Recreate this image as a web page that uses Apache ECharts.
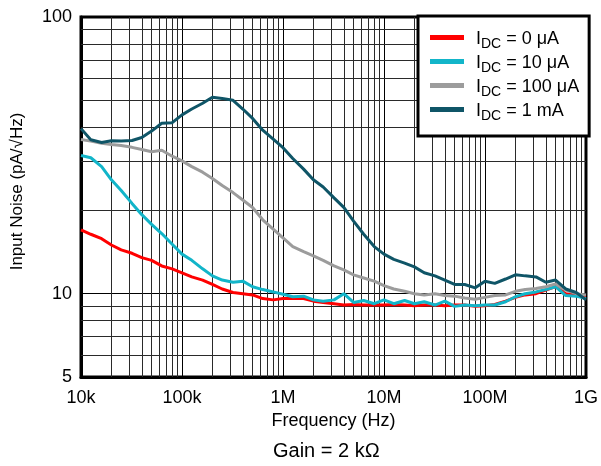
<!DOCTYPE html>
<html>
<head>
<meta charset="utf-8">
<script src="https://cdn.jsdelivr.net/npm/echarts@6/dist/echarts.min.js"></script>
<style>
  html, body { margin: 0; padding: 0; background: #fff; }
  #main { width: 601px; height: 466px; }
</style>
</head>
<body>
<div id="main"></div>
<script>
// frequency points (Hz) the curves were read at
const freq = [
  10e3, 12.5e3, 16e3, 20e3, 25e3, 32e3, 40e3, 50e3, 63e3, 80e3,
  100e3, 125e3, 160e3, 200e3, 250e3, 320e3, 400e3, 500e3, 630e3, 800e3,
  1e6, 1.25e6, 1.6e6, 2e6, 2.5e6, 3.2e6, 4e6, 5e6, 6.3e6, 8e6,
  10e6, 12.5e6, 16e6, 20e6, 25e6, 32e6, 40e6, 50e6, 63e6, 80e6,
  100e6, 125e6, 160e6, 200e6, 250e6, 320e6, 400e6, 500e6, 630e6, 800e6,
  1e9
];

// input noise, pA/sqrt(Hz)
const noise0uA = [
  17.0, 16.4, 15.8, 15.0, 14.4, 14.0, 13.5, 13.2, 12.6, 12.3,
  11.9, 11.5, 11.2, 10.8, 10.4, 10.1, 10.0, 9.9, 9.6, 9.5,
  9.6, 9.6, 9.6, 9.4, 9.3, 9.2, 9.1, 9.15, 9.1, 9.1,
  9.1, 9.15, 9.1, 9.05, 9.1, 9.1, 9.05, 9.1, 9.1, 9.0,
  9.05, 9.15, 9.4, 9.7, 9.9, 10.0, 10.3, 10.6, 10.0, 9.85,
  9.8
];
const noise10uA = [
  31.6, 31.0, 28.8, 25.8, 23.6, 21.2, 19.3, 17.8, 16.5, 15.1,
  13.9, 13.2, 12.3, 11.6, 11.2, 11.0, 11.1, 10.6, 10.35, 10.15,
  9.95, 9.75, 9.8, 9.5, 9.4, 9.5, 10.0, 9.3, 9.45, 9.2,
  9.5, 9.2, 9.45, 9.2, 9.35, 9.1, 9.4, 9.0, 9.1, 9.05,
  9.1, 9.1, 9.35, 9.75, 10.0, 10.15, 10.35, 10.6, 9.85, 9.8,
  9.6
];
const noise100uA = [
  36.1, 35.6, 35.0, 34.6, 34.3, 33.8, 33.2, 32.6, 33.0, 31.4,
  30.2, 28.8, 27.5, 26.1, 24.6, 23.2, 21.8, 20.5, 18.5, 17.1,
  15.9, 14.8, 14.2, 13.7, 13.2, 12.6, 12.2, 11.7, 11.4, 11.1,
  10.7, 10.4, 10.2, 10.0, 9.9, 10.0, 9.85, 9.8, 9.65, 9.55,
  9.7, 9.85, 9.9, 10.2, 10.35, 10.45, 10.6, 10.85, 10.3, 10.0,
  9.9
];
const noise1mA = [
  39.5, 36.0, 35.2, 35.7, 35.6, 35.8, 36.7, 38.7, 41.3, 41.5,
  44.3, 46.5, 48.8, 51.3, 50.8, 50.0, 46.5, 43.0, 39.0, 36.2,
  33.7, 30.8, 28.2, 25.8, 24.3, 22.2, 20.5, 18.3, 16.4, 14.8,
  13.9, 13.3, 12.9, 12.5, 11.9, 11.6, 11.2, 10.8, 10.8, 10.5,
  11.1, 10.9, 11.3, 11.7, 11.6, 11.5, 11.0, 11.2, 10.4, 10.1,
  9.5
];

const seriesNames = ['0 μA', '10 μA', '100 μA', '1 mA'];
const seriesColors = ['#ff0000', '#12b5c9', '#9c9c9c', '#0f5567'];
const seriesData = [noise0uA, noise10uA, noise100uA, noise1mA];

const xLabels = { 4: '10k', 5: '100k', 6: '1M', 7: '10M', 8: '100M', 9: '1G' };
const yLabels = [5, 10, 100];

const FONT = '"Liberation Sans", Arial, sans-serif';

// log-grid minor lines (2..9 of each decade)
const gridLines = [];
for (let d = 4; d < 9; d++) {
  for (let m = 2; m <= 9; m++) gridLines.push({ xAxis: m * Math.pow(10, d) });
}
for (let m = 6; m <= 9; m++) gridLines.push({ yAxis: m });
for (let m = 2; m <= 9; m++) gridLines.push({ yAxis: m * 10 });

const myChart = echarts.init(document.getElementById('main'), null, { renderer: 'canvas' });

const series = [{
  name: 'grid',
  type: 'line',
  data: [],
  silent: true,
  z: 1,
  markLine: {
    z: 1,
    silent: true,
    symbol: 'none',
    label: { show: false },
    lineStyle: { color: '#2a2a2a', width: 1, type: 'solid' },
    emphasis: { disabled: true },
    animation: false,
    data: gridLines
  }
}];
seriesNames.forEach((n, i) => {
  series.push({
    name: n,
    type: 'line',
    z: 3,
    showSymbol: false,
    symbol: 'none',
    color: seriesColors[i],
    lineStyle: { width: 3, color: seriesColors[i] },
    data: freq.map((f, j) => [f, seriesData[i][j]])
  });
});

myChart.setOption({
  animation: false,
  textStyle: { fontFamily: FONT },
  title: {
    text: 'Gain = 2 kΩ',
    left: 273,
    top: 441,
    padding: 0,
    textStyle: { fontFamily: FONT, fontSize: 20, fontWeight: 'normal', color: '#000' }
  },
  grid: {
    left: 81, top: 17, right: 12, bottom: 89,
    show: true, borderColor: '#000', borderWidth: 3, backgroundColor: '#fff'
  },
  legend: {
    data: seriesNames,
    orient: 'vertical',
    left: 418,
    top: 16,
    z: 10,
    padding: [11, 10, 13, 12],
    backgroundColor: '#fff',
    borderColor: '#000',
    borderWidth: 3,
    itemWidth: 34,
    itemHeight: 5,
    itemGap: 0,
    icon: 'rect',
    selectedMode: false,
    formatter: n => '{i|I}{s|DC}{a| = ' + n + '}',
    textStyle: {
      fontFamily: FONT, fontSize: 18, color: '#000',
      rich: {
        i: { fontFamily: FONT, fontSize: 18, color: '#000', lineHeight: 21, verticalAlign: 'top', padding: [3, 0, 0, 7] },
        a: { fontFamily: FONT, fontSize: 18, color: '#000', lineHeight: 21, verticalAlign: 'top', padding: [3, 0, 0, 0] },
        s: { fontFamily: FONT, fontSize: 14, color: '#000', lineHeight: 21, verticalAlign: 'top', padding: [10, 0, 0, 0] }
      }
    }
  },
  xAxis: {
    type: 'log',
    logBase: 10,
    min: 1e4,
    max: 1e9,
    name: 'Frequency (Hz)',
    nameLocation: 'middle',
    nameGap: 33,
    nameTextStyle: { fontFamily: FONT, fontSize: 18, color: '#000' },
    axisLine: { show: true, lineStyle: { color: '#000', width: 3 } },
    axisTick: { show: false },
    axisLabel: {
      fontFamily: FONT, fontSize: 18, color: '#000', margin: 12,
      formatter: v => xLabels[Math.round(Math.log10(v))] || ''
    },
    splitLine: { show: true, lineStyle: { color: '#000', width: 1 } },
    minorSplitLine: { show: false }
  },
  yAxis: {
    type: 'log',
    logBase: 10,
    min: 5,
    max: 100,
    name: 'Input Noise (pA/√Hz)',
    nameLocation: 'middle',
    nameGap: 55,
    nameTextStyle: { fontFamily: FONT, fontSize: 17, color: '#000', padding: [0, 0, 0, 11] },
    axisLine: { show: true, lineStyle: { color: '#000', width: 3 } },
    axisTick: { show: false },
    axisLabel: {
      fontFamily: FONT, fontSize: 18, color: '#000', margin: 9,
      formatter: v => {
        const r = Math.round(v);
        return yLabels.indexOf(r) >= 0 && Math.abs(v - r) < 0.01 ? String(r) : '';
      }
    },
    splitLine: { show: true, lineStyle: { color: '#000', width: 1 } }
  },
  series: series
});
</script>
</body>
</html>
